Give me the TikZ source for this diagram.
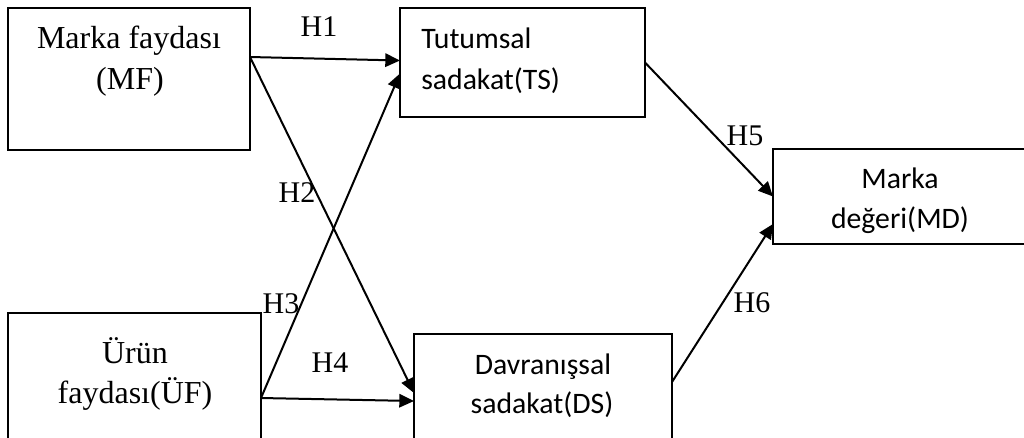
\documentclass[tikz,border=0pt]{standalone}
\usepackage{fontspec}
\setmainfont{Liberation Serif}
\newfontfamily\calibri{Carlito}
\usetikzlibrary{arrows.meta,calc}
\begin{document}
\begin{tikzpicture}[x=0.75pt,y=-0.75pt,
  box/.style={draw, line width=1.5pt, rectangle, anchor=north west, inner sep=0pt, outer sep=0pt},
  serif/.style={anchor=base, inner sep=0pt, font=\fontsize{24}{28}\selectfont},
  sans/.style={anchor=base, inner sep=0pt, font=\calibri\fontsize{22.3}{26}\selectfont},
  hlabel/.style={anchor=base, inner sep=0pt, font=\fontsize{22.5}{26}\selectfont},
  link/.style={line width=1.5pt, -{Triangle[length=11pt,width=10pt]}}]
\clip (0,0) rectangle (1024,437);

% constructs
\node[box, minimum width=181.5pt, minimum height=106.5pt] (mf) at (8,8) {};
\node[box, minimum width=183.75pt, minimum height=81.75pt] (ts) at (400,7.5) {};
\node[box, minimum width=191.25pt, minimum height=71.25pt] (md) at (773,149) {};
\node[box, minimum width=189.75pt, minimum height=105pt] (uf) at (8,313) {};
\node[box, minimum width=193.5pt, minimum height=90pt] (ds) at (414,334) {};

% box texts
\node[serif] (mf1) at (129,48) {Marka faydası};
\node[serif] (mf2) at (130,89) {(MF)};
\node[sans, anchor=base west] (ts1) at (421,48) {Tutumsal};
\node[sans, anchor=base west] (ts2) at (421,89) {sadakat(TS)};
\node[sans] (md1) at (900,188) {Marka};
\node[sans] (md2) at (900,228) {değeri(MD)};
\node[serif] (uf1) at (135,363) {Ürün};
\node[serif] (uf2) at (135,403) {faydası(ÜF)};
\node[sans] (ds1) at (543,374) {Davranışsal};
\node[sans] (ds2) at (542,413) {sadakat(DS)};

% hypothesised paths
\draw[link] ($(mf.north east)+(0,49)$) -- ($(ts.north west)+(0,53)$);
\draw[link] ($(mf.north east)+(0,49)$) -- ($(ds.north west)+(0,59)$);
\draw[link] ($(uf.north east)+(0,85)$) -- ($(ts.north west)+(0,66)$);
\draw[link] ($(uf.north east)+(0,85)$) -- ($(ds.north west)+(0,67)$);
\draw[link] ($(ts.north east)+(0,55)$) -- (md.west);
\draw[link] ($(ds.north east)+(0,48)$) -- ($(md.north west)+(0,75)$);

% path labels
\node[hlabel] (h1) at (319,36) {H1};
\node[hlabel] (h2) at (297,202) {H2};
\node[hlabel] (h3) at (281,313) {H3};
\node[hlabel] (h4) at (330,372) {H4};
\node[hlabel] (h5) at (745,145) {H5};
\node[hlabel] (h6) at (752,312) {H6};
\end{tikzpicture}
\end{document}
